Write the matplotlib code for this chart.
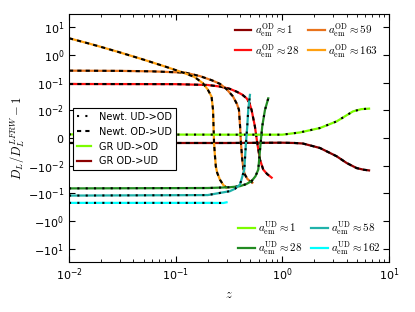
import numpy as np
import matplotlib
matplotlib.use("Agg")
import matplotlib.pyplot as plt
from matplotlib.lines import Line2D

plt.rcParams["font.size"] = 8
plt.rcParams["mathtext.fontset"] = "cm"
plt.rcParams["axes.unicode_minus"] = False

#####################
### Data
#####################
# overdense shells (OD -> UD)
z_od1 = [0.01, 0.3, 1.0, 1.3, 1.56, 2.25, 3.23, 4.0, 4.97, 5.8, 6.5]
dl_od1 = [-0.0018, -0.0018, -0.0017, -0.0018, -0.002, -0.0036, -0.0066, -0.009, -0.0122, -0.014, -0.0148]

z_od28 = [0.01, 0.1, 0.2, 0.26, 0.32, 0.373, 0.42, 0.463, 0.49, 0.515, 0.553, 0.582, 0.617, 0.662, 0.72, 0.794]
dl_od28 = [0.089, 0.088, 0.082, 0.072, 0.06, 0.047, 0.037, 0.027, 0.019, 0.0102, 0.0042, -0.0018, -0.0078, -0.0138, -0.02, -0.027]

z_od59 = [0.01, 0.03, 0.06, 0.09, 0.122, 0.17, 0.22, 0.26, 0.30, 0.344, 0.375, 0.392, 0.402, 0.409, 0.421, 0.433, 0.446, 0.47, 0.497, 0.524]
dl_od59 = [0.27, 0.265, 0.255, 0.24, 0.23, 0.17, 0.12, 0.09, 0.058, 0.032, 0.017, 0.0105, 0.004, -0.0017, -0.0078, -0.014, -0.021, -0.03, -0.036, -0.041]

z_od163 = [0.01, 0.015, 0.02, 0.03, 0.05, 0.08, 0.1, 0.12, 0.15, 0.18, 0.20, 0.217, 0.224, 0.229, 0.233, 0.238, 0.245, 0.26, 0.28, 0.30]
dl_od163 = [4.0, 2.64, 1.94, 1.23, 0.676, 0.378, 0.283, 0.223, 0.16, 0.095, 0.056, 0.031, 0.0104, -0.0017, -0.006, -0.0107, -0.018, -0.032, -0.05, -0.062]

# underdense shells (UD -> OD)
z_ud1 = [0.01, 0.3, 1.0, 1.46, 2.25, 3.23, 4.59, 5.5, 6.5]
dl_ud1 = [0.0013, 0.0012, 0.0012, 0.002, 0.0036, 0.006, 0.0096, 0.011, 0.0115]

z_ud28 = [0.01, 0.2, 0.323, 0.4, 0.46, 0.515, 0.56, 0.595, 0.626, 0.648, 0.687, 0.738]
dl_ud28 = [-0.066, -0.064, -0.06, -0.055, -0.046, -0.036, -0.024, -0.0138, -0.0018, 0.0042, 0.0102, 0.027]

z_ud58 = [0.01, 0.2, 0.323, 0.36, 0.401, 0.44, 0.456, 0.469, 0.479, 0.497]
dl_ud58 = [-0.12, -0.115, -0.083, -0.068, -0.048, -0.0138, -0.0018, 0.0042, 0.0102, 0.036]

z_ud162 = [0.01, 0.2, 0.28, 0.30]
dl_ud162 = [-0.22, -0.22, -0.222, -0.21]

od_curves = [(z_od1, dl_od1, "#8b0000", r"$a^{\rm OD}_{\rm em}\approx 1$"),
             (z_od28, dl_od28, "#ff1010", r"$a^{\rm OD}_{\rm em}\approx 28$"),
             (z_od59, dl_od59, "#e8731c", r"$a^{\rm OD}_{\rm em}\approx 59$"),
             (z_od163, dl_od163, "#ffa010", r"$a^{\rm OD}_{\rm em}\approx 163$")]
ud_curves = [(z_ud1, dl_ud1, "#7cfc00", r"$a^{\rm UD}_{\rm em}\approx 1$"),
             (z_ud28, dl_ud28, "#228b22", r"$a^{\rm UD}_{\rm em}\approx 28$"),
             (z_ud58, dl_ud58, "#20b2aa", r"$a^{\rm UD}_{\rm em}\approx 58$"),
             (z_ud162, dl_ud162, "#00ffff", r"$a^{\rm UD}_{\rm em}\approx 162$")]

#####################
### Plot
#####################
fig = plt.figure(figsize=(4.15, 3.12), dpi=100)
ax = fig.add_axes([69/415., 1-262/312., 320/415., 248/312.])

od_lines = []
for z, dl, c, lab in od_curves:
    l, = ax.plot(z, dl, color=c, lw=1.6, label=lab)
    ax.plot(z, dl, color="k", lw=1.5, dashes=(2, 2))
    od_lines.append(l)
ud_lines = []
for z, dl, c, lab in ud_curves:
    l, = ax.plot(z, dl, color=c, lw=1.6, label=lab)
    ax.plot(z, dl, color="k", lw=1.5, dashes=(1, 3))
    ud_lines.append(l)

ax.set_xscale("log")
ax.set_yscale("symlog", linthresh=0.01, linscale=0.9)
ax.set_xlim(0.01, 10)
ax.set_ylim(-30, 30)
ax.set_yticks([-10, -1, -0.1, -0.01, 0, 0.01, 0.1, 1, 10])
ax.yaxis.set_minor_locator(matplotlib.ticker.NullLocator())
ax.tick_params(which="both", direction="in", top=True, right=True)
ax.tick_params(which="major", length=4)
ax.tick_params(which="minor", length=2)
ax.set_xlabel(r"$z$", fontsize=9)
ax.set_ylabel(r"$D_L/D_L^{LFRW}-1$", fontsize=9)
ax.xaxis.set_label_coords(0.5, -0.105)
ax.yaxis.set_label_coords(-0.13, 0.5)

leg1 = ax.legend(handles=od_lines, loc="upper right", bbox_to_anchor=(0.99, 1), ncol=2,
                 frameon=False, handlelength=1.5, handletextpad=0.3, columnspacing=0.8,
                 labelspacing=0.25, borderaxespad=0.3, fontsize=8)
ax.add_artist(leg1)
leg2 = ax.legend(handles=ud_lines, loc="lower right", bbox_to_anchor=(0.99, 0), ncol=2,
                 frameon=False, handlelength=1.5, handletextpad=0.3, columnspacing=0.8,
                 labelspacing=0.25, borderaxespad=0.05, fontsize=8)
ax.add_artist(leg2)
proxies = [Line2D([], [], color="k", lw=1.5, dashes=(1, 3)),
           Line2D([], [], color="k", lw=1.5, dashes=(2, 2)),
           Line2D([], [], color="#7cfc00", lw=1.6),
           Line2D([], [], color="#8b0000", lw=1.6)]
leg3 = ax.legend(proxies, ["Newt. UD->OD", "Newt. OD->UD", "GR UD->OD", "GR OD->UD"],
                 loc="upper left", bbox_to_anchor=(0.0125, 0.621), borderaxespad=0,
                 fancybox=False, edgecolor="k", framealpha=1, labelspacing=0.5,
                 handlelength=1.5, fontsize=7)
leg3.get_frame().set_linewidth(0.8)

fig.savefig("out.png", dpi=100)
